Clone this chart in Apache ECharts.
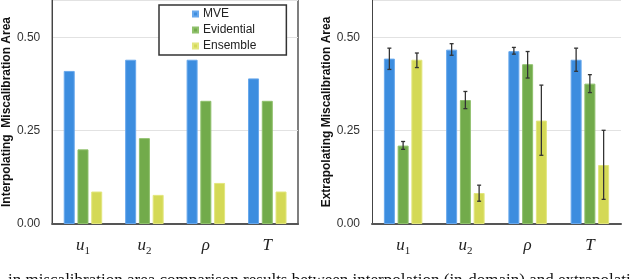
<!DOCTYPE html>
<html>
<head>
<meta charset="utf-8">
<script src="https://cdn.jsdelivr.net/npm/echarts@6/dist/echarts.min.js"></script>
<style>html,body{margin:0;padding:0;background:#fff;}#c{width:640px;height:279px;}</style>
</head>
<body>
<div id="c"></div>
<script>
// ---- data ----
var categories = ['u1', 'u2', 'rho', 'T'];
var seriesNames = ['MVE', 'Evidential', 'Ensemble'];
// Interpolating (left panel)
var interpMVE = [0.41, 0.44, 0.44, 0.39];
var interpEvidential = [0.20, 0.23, 0.33, 0.33];
var interpEnsemble = [0.087, 0.078, 0.11, 0.087];
// Extrapolating (right panel)
var extrapMVE = [0.443, 0.467, 0.463, 0.44];
var extrapEvidential = [0.21, 0.332, 0.428, 0.376];
var extrapEnsemble = [0.44, 0.083, 0.277, 0.158];
// error bar bounds (right panel)
var extrapMVELow = [0.414, 0.452, 0.455, 0.409];
var extrapMVEHigh = [0.471, 0.483, 0.473, 0.471];
var extrapEvidentialLow = [0.200, 0.309, 0.391, 0.352];
var extrapEvidentialHigh = [0.221, 0.355, 0.462, 0.400];
var extrapEnsembleLow = [0.419, 0.061, 0.184, 0.066];
var extrapEnsembleHigh = [0.458, 0.104, 0.372, 0.251];
var yTicks = [0, 0.25, 0.5];

var colors = ['#3c8ddf', '#72ab4b', '#d4d956'];
var borders = ['#68a8ec', '#8fc06c', '#e2e67e'];

var catLabel = {
  u1: '{v|u}{s|1}', u2: '{v|u}{s|2}', rho: '{v|ρ}', T: '{v|T}'
};

var BW = 11, GAP = 0.25;

function yAxis(gi, name) {
  return {
    type: 'value', gridIndex: gi, min: 0, max: 0.6, interval: 0.25,
    name: name, nameLocation: 'middle', nameGap: 36,
    nameTextStyle: {fontFamily: 'Liberation Sans, Arial', fontWeight: 'bold', fontSize: 12, color: '#111'},
    axisLine: {show: true, lineStyle: {color: '#444', width: 1}},
    axisTick: {show: false},
    axisLabel: {
      fontFamily: 'Liberation Sans, Arial', fontSize: 12, color: '#333', margin: 12,
      formatter: function (v) { return yTicks.indexOf(v) >= 0 ? v.toFixed(2) : ''; }
    },
    splitLine: {show: true, lineStyle: {color: '#e2e2e2', width: 1}}
  };
}
function xAxis(gi) {
  return {
    type: 'category', gridIndex: gi, data: categories,
    axisLine: {show: true, lineStyle: {color: '#555', width: 2}},
    axisTick: {show: false},
    axisLabel: {
      margin: 12, interval: 0,
      formatter: function (v) { return catLabel[v]; },
      rich: {
        v: {fontFamily: 'Liberation Serif, Times New Roman', fontStyle: 'italic', fontSize: 17, color: '#222', lineHeight: 20},
        s: {fontFamily: 'Liberation Serif, Times New Roman', fontSize: 11, color: '#222', lineHeight: 10, padding: [10, 0, 0, 0]}
      }
    }
  };
}
function bar(name, data, gi, idx) {
  return {
    name: name, type: 'bar', xAxisIndex: gi, yAxisIndex: gi, data: data,
    barWidth: BW, barGap: (GAP * 100) + '%',
    itemStyle: {color: colors[idx], borderColor: borders[idx], borderWidth: 1},
    emphasis: {disabled: true}, z: 2
  };
}

var errData = [];
var lows = [extrapMVELow, extrapEvidentialLow, extrapEnsembleLow];
var highs = [extrapMVEHigh, extrapEvidentialHigh, extrapEnsembleHigh];
for (var s = 0; s < 3; s++) {
  for (var c = 0; c < categories.length; c++) {
    errData.push([c, lows[s][c], highs[s][c], s]);
  }
}

var option = {
  animation: false,
  backgroundColor: '#fff',
  grid: [
    {left: 50, right: 342, top: -1, bottom: 55, show: true, borderColor: '#555', borderWidth: 1.5, backgroundColor: 'transparent'},
    {left: 372, right: 19, top: -1, bottom: 55}
  ],
  legend: {
    data: seriesNames, orient: 'vertical', left: 159, top: 5,
    icon: 'rect', itemWidth: 5, itemHeight: 5, itemGap: 4,
    padding: [3, 30, 3, 33],
    borderColor: '#333', borderWidth: 1.5, backgroundColor: '#fff',
    textStyle: {fontFamily: 'Liberation Sans, Arial', fontSize: 12, color: '#222', padding: [0, 0, 0, 0]},
    selectedMode: false, z: 10
  },
  xAxis: [xAxis(0), xAxis(1)],
  yAxis: [yAxis(0, 'Interpolating  Miscalibration Area'), yAxis(1, 'Extrapolating Miscalibration Area')],
  series: [
    bar('MVE', interpMVE, 0, 0),
    bar('Evidential', interpEvidential, 0, 1),
    bar('Ensemble', interpEnsemble, 0, 2),
    bar('MVE', extrapMVE, 1, 0),
    bar('Evidential', extrapEvidential, 1, 1),
    bar('Ensemble', extrapEnsemble, 1, 2),
    {
      type: 'custom', xAxisIndex: 1, yAxisIndex: 1, data: errData, z: 5,
      encode: {x: 0, y: [1, 2]},
      renderItem: function (params, api) {
        var ci = api.value(0), lo = api.value(1), hi = api.value(2), si = api.value(3);
        var pLo = api.coord([ci, lo]);
        var pHi = api.coord([ci, hi]);
        var off = (si - 1) * BW * (1 + GAP);
        var x = pLo[0] + off;
        var cap = 2;
        var st = {stroke: '#333', lineWidth: 1.3};
        return {
          type: 'group',
          children: [
            {type: 'line', shape: {x1: x, y1: pLo[1], x2: x, y2: pHi[1]}, style: st},
            {type: 'line', shape: {x1: x - cap, y1: pLo[1], x2: x + cap, y2: pLo[1]}, style: st},
            {type: 'line', shape: {x1: x - cap, y1: pHi[1], x2: x + cap, y2: pHi[1]}, style: st}
          ]
        };
      }
    }
  ],
  graphic: [{
    type: 'text', x: 8, y: 281, silent: true,
    style: {text: 'in miscalibration area comparison results between interpolation (in-domain) and extrapolati',
      verticalAlign: 'middle', align: 'left',
      fontFamily: 'Liberation Serif, Times New Roman', fontSize: 17, fill: '#111'}
  }]
};
var chart = echarts.init(document.getElementById('c'), null, {renderer: 'canvas'});
chart.setOption(option);
</script>
</body>
</html>
